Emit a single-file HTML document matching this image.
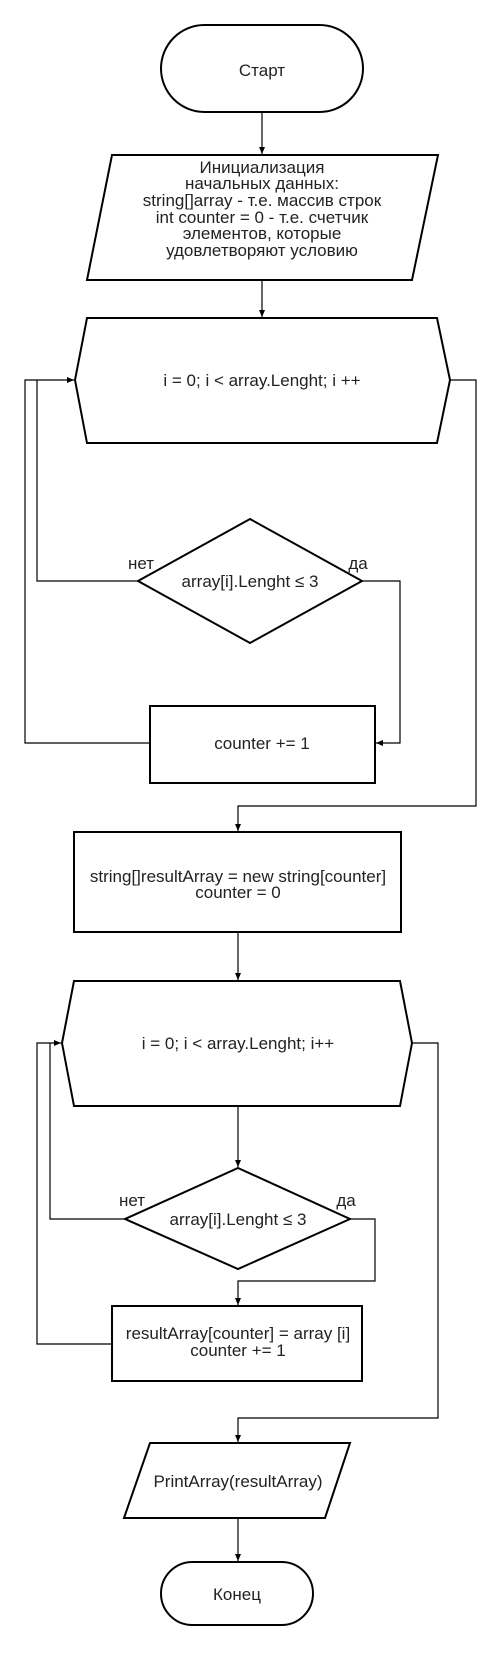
<!DOCTYPE html>
<html><head><meta charset="utf-8"><style>
html,body{margin:0;padding:0;background:#fff}
svg text{font-family:"Liberation Sans",Arial,sans-serif;font-size:17px;fill:#222}
</style></head><body>
<svg width="500" height="1650" viewBox="0 0 500 1650" xmlns="http://www.w3.org/2000/svg">
<defs><marker id="a" markerWidth="8" markerHeight="8" refX="7" refY="4" orient="auto" markerUnits="userSpaceOnUse"><path d="M0,1 L7,4 L0,7 Z" fill="#000"/></marker></defs>
<g fill="none" stroke="#000" stroke-width="2">
<rect x="161" y="25" width="202" height="87" rx="43.5"/>
<polygon points="112,155 438,155 412,280 87,280"/>
<polygon points="87,318 437,318 450,380 437,443 87,443 75,380"/>
<polygon points="250,519 362,581 250,643 138,581"/>
<rect x="150" y="706" width="225" height="77"/>
<rect x="74" y="832" width="327" height="100"/>
<polygon points="74,981 400,981 412,1043 400,1106 74,1106 62,1043"/>
<polygon points="238,1168 350,1219 238,1269 125,1219"/>
<rect x="112" y="1306" width="250" height="75"/>
<polygon points="150,1443 350,1443 325,1518 124,1518"/>
<rect x="161" y="1562" width="152" height="63" rx="31.5"/>
</g>
<g fill="none" stroke="#000" stroke-width="1.2">
<path d="M262,112 V154" marker-end="url(#a)"/>
<path d="M262,280 V317" marker-end="url(#a)"/>
<path d="M138,581 H37 V380 H74" marker-end="url(#a)"/>
<path d="M362,581 H400 V743 H376" marker-end="url(#a)"/>
<path d="M150,743 H25 V380 H37"/>
<path d="M450,380 H476 V806 H238 V831" marker-end="url(#a)"/>
<path d="M238,932 V980" marker-end="url(#a)"/>
<path d="M238,1106 V1167" marker-end="url(#a)"/>
<path d="M125,1219 H50 V1043 H61" marker-end="url(#a)"/>
<path d="M350,1219 H375 V1281 H238 V1305" marker-end="url(#a)"/>
<path d="M112,1344 H37 V1043 H50"/>
<path d="M412,1043 H438 V1418 H238 V1442" marker-end="url(#a)"/>
<path d="M238,1518 V1561" marker-end="url(#a)"/>
</g>
<g text-anchor="middle">
<text x="262" y="76">Старт</text>
<text x="262" y="173">Инициализация</text>
<text x="262" y="189">начальных данных:</text>
<text x="262" y="206">string[]array - т.е. массив строк</text>
<text x="262" y="223">int counter = 0 - т.е. счетчик</text>
<text x="262" y="239">элементов, которые</text>
<text x="262" y="256">удовлетворяют условию</text>
<text x="262" y="386">i = 0; i &lt; array.Lenght; i ++</text>
<text x="250" y="587">array[i].Lenght ≤ 3</text>
<text x="262" y="749">counter += 1</text>
<text x="238" y="882">string[]resultArray = new string[counter]</text>
<text x="238" y="898">counter = 0</text>
<text x="238" y="1049">i = 0; i &lt; array.Lenght; i++</text>
<text x="238" y="1225">array[i].Lenght ≤ 3</text>
<text x="238" y="1339">resultArray[counter] = array [i]</text>
<text x="238" y="1356">counter += 1</text>
<text x="238" y="1487">PrintArray(resultArray)</text>
<text x="237" y="1600">Конец</text>
<text x="141" y="569">нет</text>
<text x="358" y="569">да</text>
<text x="132" y="1206">нет</text>
<text x="346" y="1206">да</text>
</g>
</svg>
</body></html>
